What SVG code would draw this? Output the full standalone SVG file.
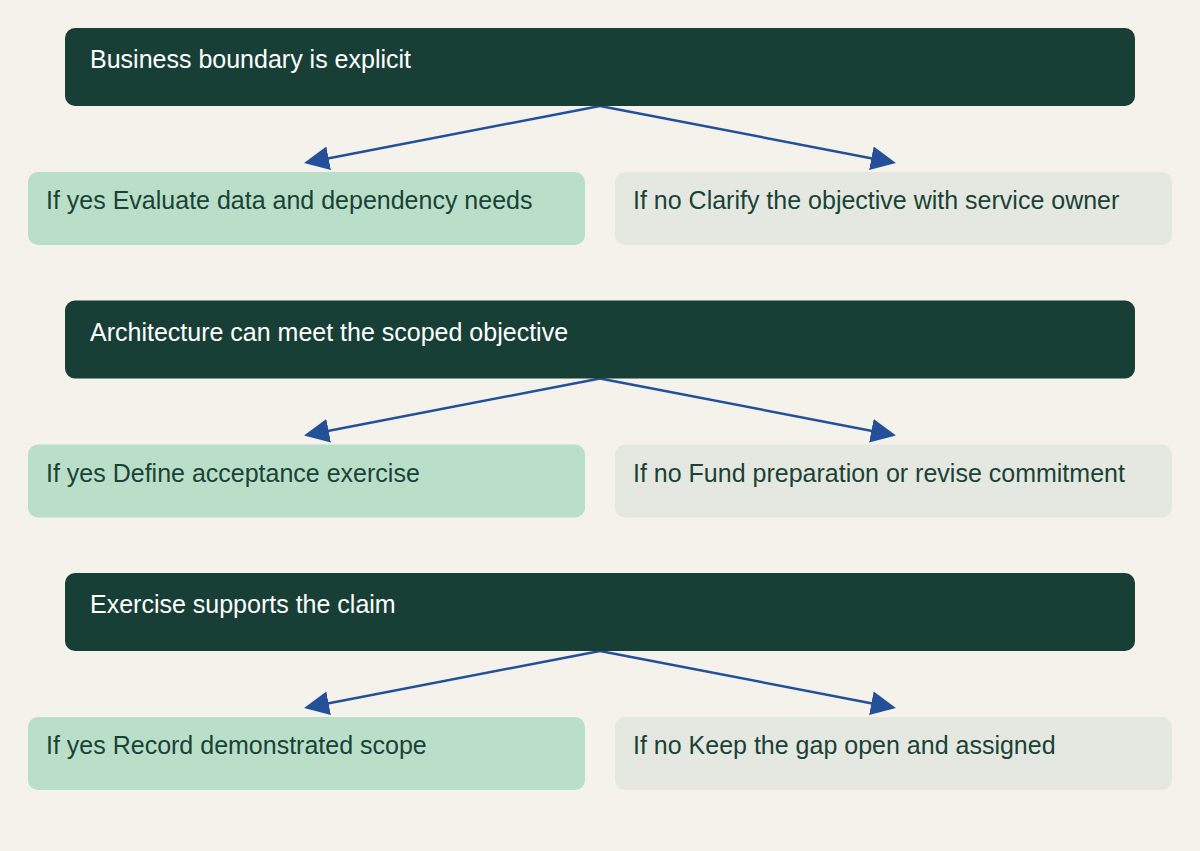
<svg xmlns="http://www.w3.org/2000/svg" width="1200" height="851" viewBox="0 0 1200 851">
<defs>
<style>
.q{fill:#173f36}
.y{fill:#b9dfc9}
.n{fill:#e5e8e0}
.qt{font-family:"Liberation Sans",Arial,sans-serif;font-size:25px;fill:#ffffff}
.ct{font-family:"Liberation Sans",Arial,sans-serif;font-size:25px;fill:#1a4237}
.e{fill:none;stroke:#24509a;stroke-width:2.5}
</style>
<marker id="ah" markerUnits="userSpaceOnUse" markerWidth="26" markerHeight="26" refX="22" refY="12" orient="auto">
<path d="M0,0 L25,12 L0,24 z" fill="#24509a"/>
</marker>
</defs>
<rect width="1200" height="851" fill="#f5f2eb"/>
<g id="connectors">
<path class="e" marker-end="url(#ah)" d="M600,106 L307,162.4"/>
<path class="e" marker-end="url(#ah)" d="M600,106 L893,162.4"/>
<path class="e" marker-end="url(#ah)" d="M600,378.5 L307,434.9"/>
<path class="e" marker-end="url(#ah)" d="M600,378.5 L893,434.9"/>
<path class="e" marker-end="url(#ah)" d="M600,651 L307,707.4"/>
<path class="e" marker-end="url(#ah)" d="M600,651 L893,707.4"/>
</g>
<g id="q1"><rect class="q" x="65" y="28" width="1070" height="78" rx="10"/><text class="qt" x="90" y="68">Business boundary is explicit</text></g>
<g id="y1"><rect class="y" x="28" y="172" width="557" height="73" rx="10"/><text class="ct" x="46" y="209">If yes Evaluate data and dependency needs</text></g>
<g id="n1"><rect class="n" x="615" y="172" width="557" height="73" rx="10"/><text class="ct" x="633" y="209">If no Clarify the objective with service owner</text></g>
<g id="q2"><rect class="q" x="65" y="300.5" width="1070" height="78" rx="10"/><text class="qt" x="90" y="340.5">Architecture can meet the scoped objective</text></g>
<g id="y2"><rect class="y" x="28" y="444.5" width="557" height="73" rx="10"/><text class="ct" x="46" y="481.5">If yes Define acceptance exercise</text></g>
<g id="n2"><rect class="n" x="615" y="444.5" width="557" height="73" rx="10"/><text class="ct" x="633" y="481.5">If no Fund preparation or revise commitment</text></g>
<g id="q3"><rect class="q" x="65" y="573" width="1070" height="78" rx="10"/><text class="qt" x="90" y="613">Exercise supports the claim</text></g>
<g id="y3"><rect class="y" x="28" y="717" width="557" height="73" rx="10"/><text class="ct" x="46" y="754">If yes Record demonstrated scope</text></g>
<g id="n3"><rect class="n" x="615" y="717" width="557" height="73" rx="10"/><text class="ct" x="633" y="754">If no Keep the gap open and assigned</text></g>
</svg>
